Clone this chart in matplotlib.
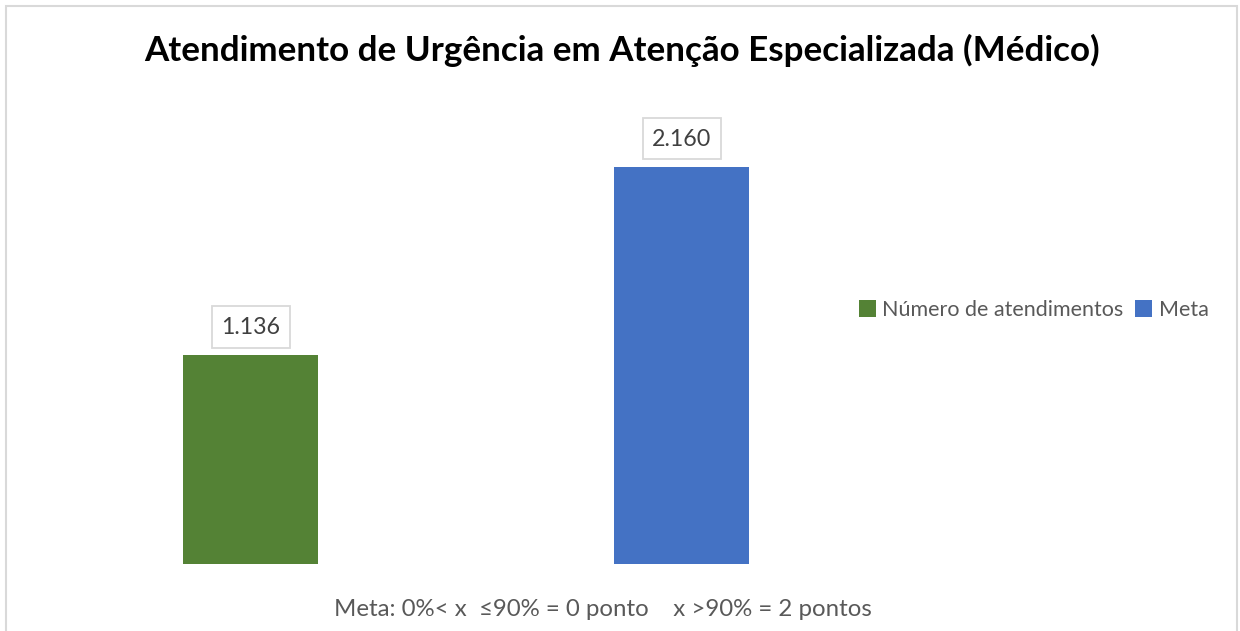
import matplotlib
matplotlib.use("Agg")
import matplotlib.pyplot as plt
from matplotlib.patches import Patch, Rectangle

# ---- data ----
categories = ["Número de atendimentos", "Meta"]
values = [1136, 2160]
value_labels = ["1.136", "2.160"]
colors = ["#548235", "#4472C4"]
title = "Atendimento de Urgência em Atenção Especializada (Médico)"
footer = "Meta: 0%< x  ≤90% = 0 ponto    x >90% = 2 pontos"

FONT = ["Lato", "DejaVu Sans"]
plt.rcParams["font.family"] = FONT

W, H = 1240, 631
DPI = 100
fig = plt.figure(figsize=(W / DPI, H / DPI), dpi=DPI)
fig.patch.set_facecolor("white")
renderer = fig.canvas.get_renderer()
inch = fig.dpi_scale_trans  # 1 unit = 100 px


def fit_size(text, target_w, weight="normal", start=12):
    t = fig.text(0, 0, text, fontsize=start, fontweight=weight)
    w = t.get_window_extent(renderer).width
    t.remove()
    return start * target_w / w


# chart frame
fig.patches.append(Rectangle((5.5 / DPI, -1), (1236.5 - 5.5) / DPI, (H - 5.5) / DPI + 1,
                             transform=inch, fill=False, edgecolor="#d9d9d9",
                             linewidth=1.5, zorder=0))

# title
ts = fit_size(title, 950, weight="bold")
fig.text(622 / W, 1 - 50 / H, title, fontsize=ts, fontweight="bold",
         ha="center", va="center", color="black")

# plot area
base_y = 564
ax = fig.add_axes([35 / W, (H - base_y) / H, 862 / W, 459.5 / H])
ax.bar(range(len(values)), values, width=0.313, color=colors)
ax.set_xlim(-0.5, len(values) - 0.5)
ax.set_ylim(0, 2500)
ax.axis("off")

# data labels with boxes
ls = fit_size("1.136", 59)
for i, (v, lab) in enumerate(zip(values, value_labels)):
    x_px, y_px = ax.transData.transform((i, v))
    cy = y_px + 28.5
    fig.patches.append(Rectangle(((x_px - 39) / DPI, (cy - 20.8) / DPI), 78 / DPI, 41.6 / DPI,
                                 transform=inch, facecolor="white", edgecolor="#d9d9d9",
                                 linewidth=1.3, zorder=3))
    fig.text(x_px / DPI, (cy - 1) / DPI, lab, transform=inch, fontsize=ls,
             ha="center", va="center", color="#404040", zorder=4)

# legend
gs = fit_size(categories[0], 241)
handles = [Patch(facecolor=c, edgecolor="none") for c in colors]
fig.legend(handles, categories, loc="center left",
           bbox_to_anchor=(859 / W, 1 - 310 / H), ncol=2, frameon=False,
           fontsize=gs, labelcolor="#595959", handlelength=0.78, handleheight=0.78,
           handletextpad=0.3, columnspacing=0.55, borderpad=0, borderaxespad=0)

# footer
fs = fit_size(footer, 537)
fig.text(603 / W, 1 - 610 / H, footer, fontsize=fs, ha="center", va="center",
         color="#595959")

fig.savefig("out.png", dpi=DPI, facecolor="white")
